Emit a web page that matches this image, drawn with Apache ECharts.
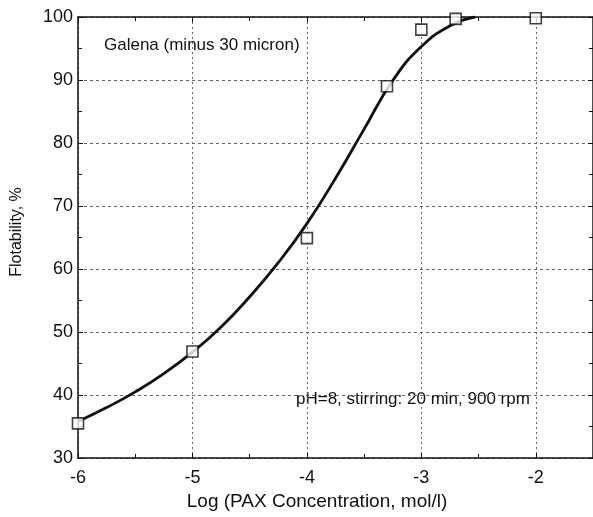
<!DOCTYPE html>
<html>
<head>
<meta charset="utf-8">
<script src="https://cdn.jsdelivr.net/npm/echarts@6/dist/echarts.min.js"></script>
<style>
  html, body { margin: 0; padding: 0; background: #fff; }
  #chart { width: 593px; height: 517px; }
</style>
</head>
<body>
<div id="chart"></div>
<script>
// Galena flotability vs log PAX concentration

// measured points (log conc, flotability %)
const pointX = [-6, -5, -4, -3.3, -3, -2.7, -2];
const pointY = [35.5, 46.9, 64.9, 89.0, 98.0, 99.7, 99.8];

// fitted curve
const curveX = [-6, -5.75, -5.5, -5.25, -5, -4.75, -4.5, -4.25, -4, -3.75, -3.5, -3.25, -3, -2.75, -2.53];
const curveY = [35.8, 38.0, 40.5, 43.4, 46.8, 50.8, 55.6, 61.0, 67.2, 74.4, 82.2, 89.9, 95.3, 98.6, 100];

const xMin = -6, xMax = -1.5, xStep = 1;
const yMin = 30, yMax = 100, yStep = 10;

const font = 'Liberation Sans, Arial, sans-serif';
const ink = '#111';
const gridColor = '#666';

const chart = echarts.init(document.getElementById('chart'));

const axisCommon = {
    type: 'value',
    axisLine: { show: true, onZero: false, lineStyle: { color: ink, width: 1.5 } },
    axisTick: { show: true, inside: true, length: 5, lineStyle: { color: ink } },
    minorTick: { show: true, splitNumber: 2, length: 4, lineStyle: { color: ink } },
};

chart.setOption({
    animation: false,
    backgroundColor: '#fff',
    grid: { left: 78, top: 17, width: 517.5, height: 441 },
    xAxis: [
        Object.assign({}, axisCommon, {
            min: xMin, max: xMax, interval: xStep,
            position: 'bottom',
            name: 'Log (PAX Concentration, mol/l)',
            nameLocation: 'middle',
            nameGap: 34,
            nameTextStyle: { fontFamily: font, fontSize: 19, color: ink, padding: [0, 37, 0, 0] },
            axisLabel: { fontFamily: font, fontSize: 18, color: ink, margin: 11, showMaxLabel: false },
            splitLine: { show: true, lineStyle: { color: gridColor, type: [2, 3], width: 1 } },
        }),
        Object.assign({}, axisCommon, {
            min: xMin, max: xMax, interval: xStep,
            position: 'top',
            axisLabel: { show: false },
            splitLine: { show: false },
        }),
    ],
    yAxis: [
        Object.assign({}, axisCommon, {
            min: yMin, max: yMax, interval: yStep,
            position: 'left',
            name: 'Flotability, %',
            nameLocation: 'middle',
            nameGap: 53,
            nameTextStyle: { fontFamily: font, fontSize: 16, color: ink, padding: [0, 0, 0, 11] },
            axisLabel: { fontFamily: font, fontSize: 18, color: ink, margin: 5 },
            splitLine: { show: true, lineStyle: { color: gridColor, type: [3, 3], width: 1 } },
        }),
        Object.assign({}, axisCommon, {
            min: yMin, max: yMax, interval: yStep,
            position: 'right',
            axisLabel: { show: false },
            splitLine: { show: false },
        }),
    ],
    graphic: [
        {
            type: 'text', left: 104, top: 37,
            style: { text: 'Galena (minus 30 micron)', fontFamily: font, fontSize: 17, fill: ink },
        },
        {
            type: 'text', left: 296, top: 391,
            style: { text: 'pH=8, stirring: 20 min, 900 rpm', fontFamily: font, fontSize: 17, fill: ink },
        },
    ],
    series: [
        {
            type: 'line',
            data: curveX.map((x, i) => [x, curveY[i]]),
            smooth: 0.5,
            showSymbol: false,
            lineStyle: { color: ink, width: 2.8 },
            z: 2,
        },
        {
            type: 'scatter',
            data: pointX.map((x, i) => [x, pointY[i]]),
            symbol: 'rect',
            symbolSize: 11,
            itemStyle: { color: '#fff', borderColor: ink, borderWidth: 1.6 },
            clip: false,
            z: 3,
        },
    ],
});
</script>
</body>
</html>
